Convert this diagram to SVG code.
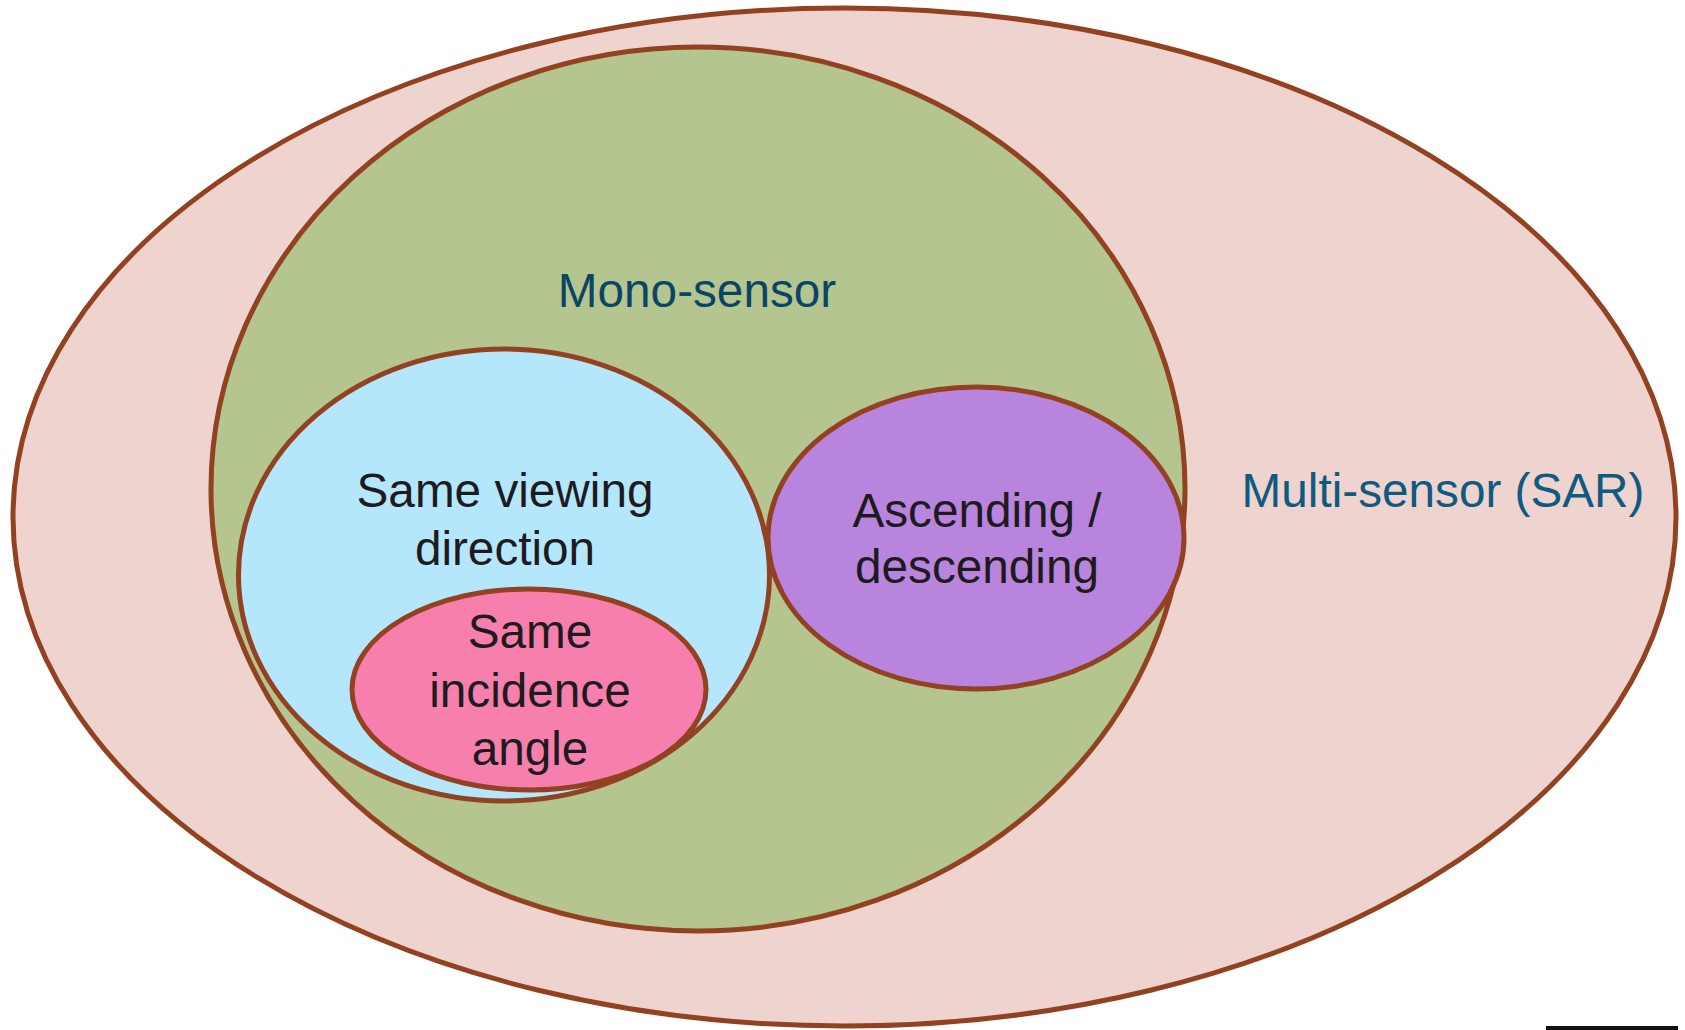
<svg xmlns="http://www.w3.org/2000/svg" width="1685" height="1030" viewBox="0 0 1685 1030">
<style>
.sh{stroke:#924121;stroke-width:5}
text{font-family:"Liberation Sans",Arial,sans-serif;font-size:47.7px;text-anchor:middle}
.dk{fill:#1d1b20}
</style>
<rect width="1685" height="1030" fill="#ffffff"/>
<g id="multi-sensor">
<ellipse class="sh" cx="844.5" cy="517" rx="831.5" ry="509" fill="#efd3cf"/>
<text x="1443" y="507" fill="#0e5a80">Multi-sensor (SAR)</text>
</g>
<g id="mono-sensor">
<ellipse class="sh" cx="698" cy="489" rx="487" ry="442" fill="#b5c58f"/>
<text x="697" y="307" fill="#0b4565">Mono-sensor</text>
</g>
<g id="same-viewing-direction">
<ellipse class="sh" cx="504" cy="575" rx="265.5" ry="226" fill="#b5e7fc"/>
<text class="dk" x="505" y="507">Same viewing</text>
<text class="dk" x="505" y="565">direction</text>
</g>
<g id="same-incidence-angle">
<ellipse class="sh" cx="529" cy="689.5" rx="177" ry="100.5" fill="#f77fad"/>
<text class="dk" x="530" y="648">Same</text>
<text class="dk" x="530" y="707">incidence</text>
<text class="dk" x="530" y="765">angle</text>
</g>
<g id="ascending-descending">
<ellipse class="sh" cx="976" cy="538" rx="208" ry="151" fill="#b884de"/>
<text class="dk" x="977" y="527">Ascending /</text>
<text class="dk" x="977" y="583">descending</text>
</g>
<g id="connectors"></g>
<rect x="1546" y="1026" width="132" height="4" fill="#111111"/>
</svg>
